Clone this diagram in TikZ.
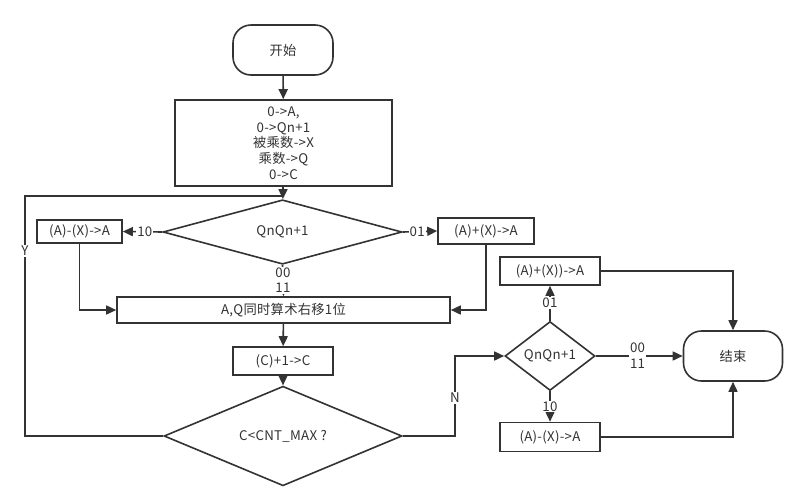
\documentclass[tikz,border=0pt]{standalone}
\usepackage{fontspec}
\setmainfont{Noto Sans CJK SC}[LetterSpace=2]
\usetikzlibrary{shapes.geometric,arrows.meta}
\definecolor{ink}{RGB}{51,51,51}
\begin{document}
\begin{tikzpicture}[x=1pt,y=-1pt,
  font=\fontsize{13.3}{15.7}\selectfont,
  base/.style={draw=ink, line width=1.6pt, inner sep=0pt, align=center, text=ink},
  proc/.style={base, rectangle},
  term/.style={base, rectangle, rounded corners=18pt},
  dec/.style={base, diamond},
  flow/.style={draw=ink, line width=1.6pt, -{Triangle[length=10pt,width=9pt]}},
  line/.style={draw=ink, line width=1.6pt},
  lbl/.style={fill=white, inner sep=1pt, text=ink, align=center}]
  \fill[white] (0,0) rectangle (808,496);
  \useasboundingbox (0,0) rectangle (808,496);

  % main loop
  \node[term, minimum width=100, minimum height=50] (start) at (283,50) {开始};
  \node[proc, minimum width=217, minimum height=86] (init) at (283.5,143)
    {0->A,\\0->Qn+1\\被乘数->X\\乘数->Q\\0->C};
  \node[dec, minimum width=239, minimum height=40] (d1) at (282.5,232) {QnQn+1};
  \node[proc, minimum width=85, minimum height=23] (lbox) at (79.5,231.5) {(A)-(X)->A};
  \node[proc, minimum width=96, minimum height=26] (rbox) at (486,231) {(A)+(X)->A};
  \node[proc, minimum width=333, minimum height=26] (shift) at (283.5,310) {A,Q同时算术右移1位};
  \node[proc, minimum width=100, minimum height=28] (cbox) at (283,361) {(C)+1->C};
  \node[dec, minimum width=238, minimum height=68] (cnt) at (283,436) {C<CNT\_MAX ?};

  % final correction
  \node[dec, minimum width=90, minimum height=69] (d2) at (550,356) {QnQn+1};
  \node[proc, minimum width=100, minimum height=28] (tbox) at (550,271) {(A)+(X))->A};
  \node[proc, minimum width=100, minimum height=29] (bbox) at (550,437) {(A)-(X)->A};
  \node[term, minimum width=99, minimum height=50] (endn) at (733,356) {结束};

  \coordinate (loopj) at (283,196);
  \coordinate (ybend) at (25,196);
  \coordinate (nbend) at (455,356);

  \draw[flow] (start) -- (init);
  \draw[flow] (init) -- (d1);
  \draw[flow] (d1.west) -- node[lbl, pos=0.44] (l10) {10} (lbox.east);
  \draw[flow] (d1.east) -- node[lbl, pos=0.42] (l01) {01} (rbox.west);
  \draw[flow] (d1.south) -- node[lbl, pos=0.49] (l0011) {00\\11} (shift.north);
  \draw[flow] (lbox.south) |- (shift.west);
  \draw[flow] (rbox.south) |- (shift.east);
  \draw[flow] (shift) -- (cbox);
  \draw[flow] (cbox) -- (cnt);
  \draw[line] (cnt.west) -| (ybend) -- (loopj);
  \node[lbl] (ylab) at (25,251) {Y};
  \draw[flow] (cnt.east) -| (nbend) -- (d2.west);
  \node[lbl] (nlab) at (455,398) {N};

  \draw[flow] (d2.north) -- node[lbl, pos=0.5] (m01) {01} (tbox.south);
  \draw[flow] (d2.south) -- node[lbl, pos=0.5] (m10) {10} (bbox.north);
  \draw[flow] (d2.east) -- node[lbl, pos=0.48] (m0011) {00\\11} (endn.west);
  \draw[flow] (tbox.east) -| (endn.north);
  \draw[flow] (bbox.east) -| (endn.south);
\end{tikzpicture}
\end{document}
